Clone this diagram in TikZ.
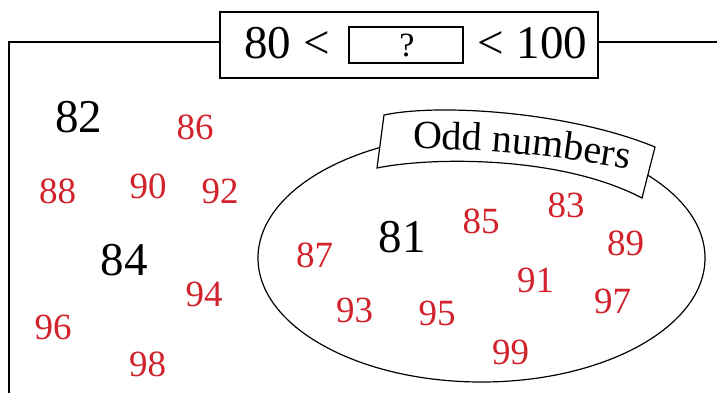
\documentclass[tikz,border=0pt]{standalone}
\usepackage{fontspec}
\setmainfont{Liberation Serif}
\usetikzlibrary{decorations.text,shapes.geometric}
\definecolor{numred}{RGB}{210,35,45}
\begin{document}
\begin{tikzpicture}[x=1pt,y=1pt,
  blk/.style={font=\fontsize{47}{47}\selectfont, inner sep=0pt},
  rd/.style={font=\fontsize{37}{37}\selectfont, text=numred, inner sep=0pt},
  ttl/.style={font=\fontsize{47}{47}\selectfont, inner sep=0pt, anchor=base},
  frameline/.style={line width=2.2pt},
  thinline/.style={line width=1.2pt}]
\useasboundingbox (0,0) rectangle (717,-392);
\fill[white] (0,0) rectangle (717,-392);
% outer frame and title
\node[draw, line width=2.4pt, minimum width=378pt, minimum height=66pt, inner sep=0pt] (tframe) at (409,-45) {};
\coordinate (ftl) at (9,-42);
\coordinate (fbl) at (9,-396);
\coordinate (fr) at (721,-42);
\draw[frameline] (tframe.west |- ftl) -- (ftl) -- (fbl);
\draw[frameline] (tframe.east |- fr) -- (fr);
\node[ttl] (t80) at (267.5,-58) {80};
\node[ttl] (tlt1) at (316.5,-58) {<};
\node[draw, line width=1.3pt, minimum width=114pt, minimum height=36pt, inner sep=0pt] (qbox) at (406,-45) {};
\node[font=\fontsize{34}{34}\selectfont, anchor=base, inner sep=0pt] (q) at (407,-56) {?};
\node[ttl] (tlt2) at (490.5,-58) {<};
\node[ttl] (t100) at (552,-58) {100};
% ellipse
\node[draw, ellipse, thinline, minimum width=447pt, minimum height=248pt, inner sep=0pt] (odd) at (481.5,-258) {};
% banner
\draw[thinline, fill=white] (384,-115) .. controls (440,-103) and (570,-112) .. (655,-147)
  -- (642,-198) .. controls (560,-155) and (430,-157) .. (377,-168) -- cycle;
\path[decorate, decoration={text along path, text={|\fontsize{40}{40}\selectfont|Odd numbers}}]
  (413,-149) .. controls (485,-148) and (570,-157) .. (660,-175);
% black numbers
\node[blk] (n82) at (78.5,-117) {82};
\node[blk] (n84) at (124,-260) {84};
\node[blk] (n81) at (402,-237.5) {81};
% red numbers
\node[rd] (n86) at (195,-127.5) {86};
\node[rd] (n88) at (57.5,-191.5) {88};
\node[rd] (n90) at (148,-186.5) {90};
\node[rd] (n92) at (220,-191) {92};
\node[rd] (n94) at (204,-294) {94};
\node[rd] (n96) at (53,-327) {96};
\node[rd] (n98) at (147.5,-364.5) {98};
\node[rd] (n87) at (314.5,-255.5) {87};
\node[rd] (n85) at (481,-221) {85};
\node[rd] (n83) at (566,-205.5) {83};
\node[rd] (n89) at (625.5,-243) {89};
\node[rd] (n91) at (535.5,-280.5) {91};
\node[rd] (n97) at (612.5,-301) {97};
\node[rd] (n93) at (354.5,-310) {93};
\node[rd] (n95) at (437,-313.5) {95};
\node[rd] (n99) at (510.5,-352) {99};
\end{tikzpicture}
\end{document}
